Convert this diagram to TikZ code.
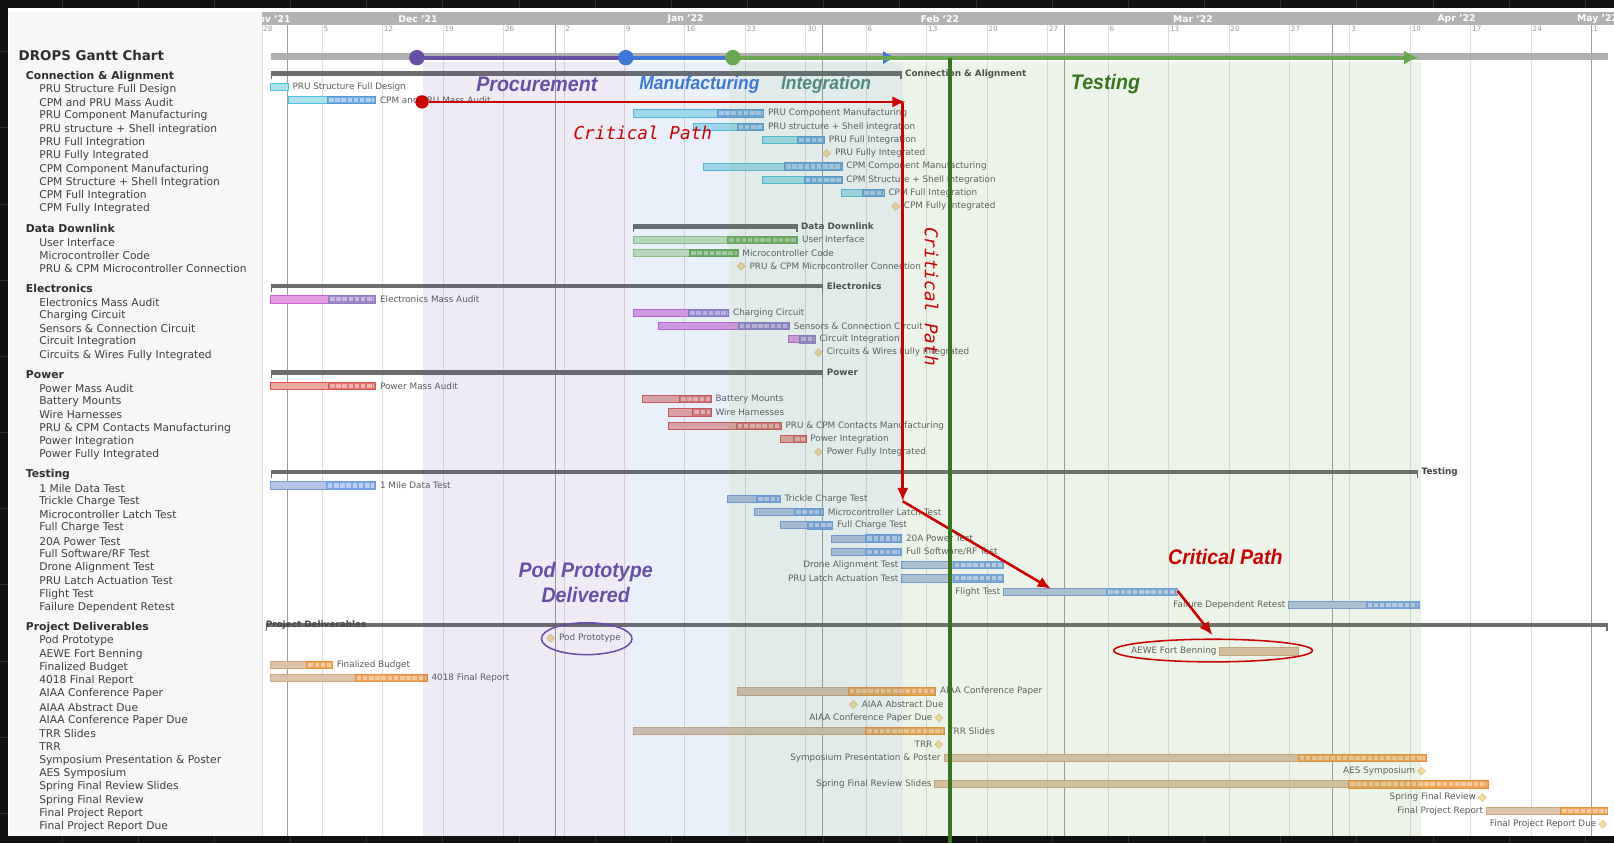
\documentclass[tikz,border=0pt]{standalone}
\usepackage{fontspec}
\setmainfont{DejaVu Sans}
\newfontfamily\phasefont{Liberation Sans}
\newfontfamily\critfont{DejaVu Sans Mono}
\usepackage{tikz}
\usetikzlibrary{arrows.meta,shapes.geometric,calc}

\definecolor{framebg}{HTML}{111111}
\definecolor{framegrid}{HTML}{2E2E2E}
\definecolor{sidebg}{HTML}{F7F7F7}
\definecolor{headgray}{HTML}{B2B2B2}
\definecolor{weekline}{HTML}{DDDDDD}
\definecolor{monthline}{HTML}{9E9E9E}
\definecolor{daygray}{HTML}{9A9A9A}
\definecolor{labtext}{HTML}{404040}
\definecolor{headtext}{HTML}{2E2E2E}
\definecolor{bartext}{HTML}{5A5A5A}
\definecolor{sumtext}{HTML}{474747}
\definecolor{sumgray}{HTML}{6C6C6C}
\definecolor{timegray}{HTML}{B0B0B0}
\definecolor{procpurple}{HTML}{674EA7}
\definecolor{mfgblue}{HTML}{3C78D8}
\definecolor{intteal}{HTML}{4E8A80}
\definecolor{intgreen}{HTML}{6AA84F}
\definecolor{tstgreen}{HTML}{38761D}
\definecolor{crit}{HTML}{CC0000}
\definecolor{msfill}{HTML}{F6DCA2}
\definecolor{msdraw}{HTML}{E9C27E}
% couleurs des groupes
\definecolor{Lcon}{HTML}{ACE2EE}\definecolor{Econ}{HTML}{4DC2DC}\definecolor{Dcon}{HTML}{74ABDD}\definecolor{Bcon}{HTML}{5B9BD5}\definecolor{Scon}{HTML}{AFD0F0}
\definecolor{Ldat}{HTML}{C6E3B7}\definecolor{Edat}{HTML}{8DC578}\definecolor{Ddat}{HTML}{72B05E}\definecolor{Bdat}{HTML}{6AA84F}\definecolor{Sdat}{HTML}{A9D394}
\definecolor{Lele}{HTML}{E29CE6}\definecolor{Eele}{HTML}{C763D3}\definecolor{Dele}{HTML}{9C86CA}\definecolor{Bele}{HTML}{8E7CC3}\definecolor{Sele}{HTML}{C9B9E6}
\definecolor{Lpow}{HTML}{ECA79F}\definecolor{Epow}{HTML}{D95650}\definecolor{Dpow}{HTML}{E0766E}\definecolor{Bpow}{HTML}{D9534F}\definecolor{Spow}{HTML}{F3B4AD}
\definecolor{Ltst}{HTML}{B4C3E6}\definecolor{Etst}{HTML}{7C9AD9}\definecolor{Dtst}{HTML}{7FA4E1}\definecolor{Btst}{HTML}{6D9EEB}\definecolor{Stst}{HTML}{B9D0F4}
\definecolor{Ldlv}{HTML}{DDC3A9}\definecolor{Edlv}{HTML}{CFA57D}\definecolor{Ddlv}{HTML}{F0A45A}\definecolor{Bdlv}{HTML}{E69138}\definecolor{Sdlv}{HTML}{F5CA9D}

\tikzset{
  lefttxt/.style={anchor=west,inner sep=0pt,text=labtext,font=\fontsize{10.4}{12}\selectfont},
  grouptxt/.style={anchor=west,inner sep=0pt,text=headtext,font=\bfseries\fontsize{10.5}{12}\selectfont},
  bartxt/.style={inner sep=0pt,text=bartext,font=\fontsize{8.6}{10}\selectfont},
  sumtxt/.style={anchor=west,inner sep=0pt,text=sumtext,font=\bfseries\fontsize{8.6}{10}\selectfont},
  daytxt/.style={anchor=north west,inner sep=0pt,text=daygray,font=\fontsize{7}{8}\selectfont},
  monthtxt/.style={inner sep=0pt,text=white,font=\bfseries\fontsize{9}{10}\selectfont},
  mstone/.style={diamond,fill=msfill,draw=msdraw,line width=0.5,minimum size=8pt,inner sep=0pt},
  sumbar/.style={sumgray,line width=4.5},
  phasetxt/.style={inner sep=0pt,xscale=0.93,font=\phasefont\bfseries\itshape\fontsize{20.5}{24}\selectfont},
  smallphase/.style={font=\phasefont\bfseries\itshape\fontsize{18.2}{22}\selectfont},
  crittxt/.style={inner sep=0pt,text=crit,font=\critfont\itshape\fontsize{17.2}{20}\selectfont},
  critline/.style={crit,line width=2.5,-{Latex[length=13pt,width=11pt]}},
  phasedot/.style={circle,minimum size=15pt,inner sep=0pt},
  phaseband/.style={fill opacity=0.11}
}

\begin{document}
\begin{tikzpicture}[x=1pt,y=-1pt]
    \useasboundingbox (0,0) rectangle (1568,819);

    % Cadre
    \fill[framebg] (0,0) rectangle (1568,819);
    \foreach \x in {60,134,...,1568} \draw[framegrid] (\x,0) -- (\x,819);
    \foreach \y in {50,124,...,819} \draw[framegrid] (0,\y) -- (1568,\y);
    \fill[white] (8,8) rectangle (1568,812);
    \fill[sidebg] (9,12) rectangle (255,812);
    \draw[weekline] (255,12) -- (255,812);

    % En-tete
    \fill[headgray] (255,12) rectangle (1568,24);
    \begin{scope}
        \clip (255,12) rectangle (1568,24);
        \foreach \m/\cx in {Nov '21/263,Dec '21/406,Jan '22/666,Feb '22/913,Mar '22/1159,Apr '22/1415,May '22/1552}
            \node[monthtxt] (mon\cx) at (\cx,18.3) {\m};
    \end{scope}
    \foreach \k/\d in {0/28,1/5,2/12,3/19,4/26,5/2,6/9,7/16,8/23,9/30,10/6,11/13,12/20,13/27,14/6,15/13,16/20,17/27,18/3,19/10,20/17,21/24,22/1}
        \node[daytxt] (day\k) at ({255.5+58.73*\k},25.5) {\d};

    % Grille
    \foreach \k in {1,...,22}
        \draw[weekline] ({254+58.73*\k},24) -- ({254+58.73*\k},812);
    \foreach \m in {279.2,539.3,799.4,1034.3,1294.4,1546.1}
        \draw[monthline,line width=1.1] (\m,24) -- (\m,812);

    % Frise
    \draw[timegray,line width=7] (263,55) -- (1562,55);

    % Titre et groupes
    \node[anchor=west,inner sep=0pt,text=headtext,font=\bfseries\fontsize{13}{15}\selectfont] (title) at (18,54) {DROPS Gantt Chart};
    \foreach \r/\g/\x/\xx/\txt in {0/0/263/876/Connection \& Alignment,11/1/615/775/Data Downlink,15/2/263/800/Electronics,21/3/263/800/Power,28/4/263/1378/Testing}{
        \pgfmathsetmacro\yl{74+12.9*\r+6.5*\g}
        \pgfmathsetmacro\yc{\yl-2.5}
        \node[grouptxt] (grp\r) at (25,\yl) {\txt};
        \draw[sumbar] (\x,\yc) -- (\xx,\yc);
        \draw[sumgray,line width=1.4] (\x+0.7,\yc) -- (\x+0.7,\yc+5.5) (\xx-0.7,\yc) -- (\xx-0.7,\yc+5.5);
        \node[sumtxt] (sum\r) at (\xx+3,\yc) {\txt};
    }
    \node[grouptxt] (grp39) at (25,609.6) {Project Deliverables};
    \draw[sumbar] (258,607.1) -- (1562,607.1);
    \draw[sumgray,line width=1.4] (258.7,607.1) -- (258.7,612.6) (1561.3,607.1) -- (1561.3,612.6);
    \node[sumtxt] (sum39) at (258,607.1) {Project Deliverables};

    % Taches
    \foreach \r/\g/\col/\a/\b/\c/\sd/\txt in {
        1/0/con/263/280/280/r/PRU Structure Full Design,
        2/0/con/280/318/365/r/CPM and PRU Mass Audit,
        3/0/con/615/697/742/r/PRU Component Manufacturing,
        4/0/con/674/716/742/r/PRU structure + Shell integration,
        5/0/con/741/775/801/r/PRU Full Integration,
        6/0/con/803/803/803/r/PRU Fully Integrated,
        7/0/con/683/762/818/r/CPM Component Manufacturing,
        8/0/con/741/781/818/r/CPM Structure + Shell Integration,
        9/0/con/817/838/859/r/CPM Full Integration,
        10/0/con/870/870/870/r/CPM Fully Integrated,
        12/1/dat/615/707/775/r/User Interface,
        13/1/dat/615/670/717/r/Microcontroller Code,
        14/1/dat/720/720/720/r/PRU \& CPM Microcontroller Connection,
        16/2/ele/263/319/365/r/Electronics Mass Audit,
        17/2/ele/615/669/708/r/Charging Circuit,
        18/2/ele/640/717/767/r/Sensors \& Connection Circuit,
        19/2/ele/766/777/792/r/Circuit Integration,
        20/2/ele/795/795/795/r/Circuits \& Wires Fully Integrated,
        22/3/pow/263/319/365/r/Power Mass Audit,
        23/3/pow/624/660/691/r/Battery Mounts,
        24/3/pow/649/673/691/r/Wire Harnesses,
        25/3/pow/649/715/759/r/PRU \& CPM Contacts Manufacturing,
        26/3/pow/758/771/783/r/Power Integration,
        27/3/pow/795/795/795/r/Power Fully Integrated,
        29/4/tst/263/317/365/r/1 Mile Data Test,
        30/4/tst/707/735/758/r/Trickle Charge Test,
        31/4/tst/733/772/800/r/Microcontroller Latch Test,
        32/4/tst/758/784/809/r/Full Charge Test,
        33/4/tst/808/841/876/r/20A Power Test,
        34/4/tst/808/841/876/r/{Full Software/RF Test},
        35/4/tst/876/926/975/l/Drone Alignment Test,
        36/4/tst/876/926/975/l/PRU Latch Actuation Test,
        37/4/tst/975/1075/1144/l/Flight Test,
        38/4/tst/1252/1327/1379/l/Failure Dependent Retest,
        40/5/dlv/535/535/535/r/Pod Prototype,
        41/5/dlv/1185/1261/1261/l/AEWE Fort Benning,
        42/5/dlv/263/298/323/r/Finalized Budget,
        43/5/dlv/263/345/415/r/4018 Final Report,
        44/5/dlv/716/824/909/r/AIAA Conference Paper,
        45/5/dlv/829/829/829/r/AIAA Abstract Due,
        46/5/dlv/912/912/912/l/AIAA Conference Paper Due,
        47/5/dlv/615/841/917/r/TRR Slides,
        48/5/dlv/912/912/912/l/TRR,
        49/5/dlv/917/1261/1386/l/Symposium Presentation \& Poster,
        50/5/dlv/1381/1381/1381/l/AES Symposium,
        51/5/dlv/908/1310/1446/l/Spring Final Review Slides,
        52/5/dlv/1440/1440/1440/l/Spring Final Review,
        53/5/dlv/1444/1516/1562/l/Final Project Report,
        54/5/dlv/1557/1557/1557/l/Final Project Report Due}{
        \pgfmathsetmacro\yl{74+12.9*\r+6.5*\g}
        \pgfmathsetmacro\yc{\yl-2.5}
        \node[lefttxt] (lbl\r) at (38,\yl) {\txt};
        \ifdim\a pt=\c pt
            \node[mstone] (ms\r) at (\a,\yc) {};
            \def\xr{\a+8}\def\xl{\a-6}
        \else
            \draw[fill=L\col,draw=E\col,line width=0.8] (\a,\yc-3.5) rectangle (\b,\yc+3.5);
            \ifdim\b pt<\c pt
                \draw[fill=D\col,draw=B\col,line width=0.8] (\b,\yc-3.6) rectangle (\c,\yc+3.6);
                \draw[S\col,line width=4,dash pattern=on 4.4pt off 1.6pt] (\b+1.6,\yc) -- (\c-1.2,\yc);
            \fi
            \def\xr{\c+4}\def\xl{\a-3}
        \fi
        \if\sd r
            \node[bartxt,anchor=west] (txt\r) at (\xr,\yc) {\txt};
        \else
            \node[bartxt,anchor=east] (txt\r) at (\xl,\yc) {\txt};
        \fi
    }

    % Phases
    \fill[procpurple,phaseband] (411,60) rectangle (610,812);
    \fill[mfgblue,phaseband] (610,60) rectangle (708,812);
    \fill[intteal,fill opacity=0.17] (708,60) rectangle (877,812);
    \fill[intgreen,fill opacity=0.12] (877,60) rectangle (1380,812);

    \node[phasetxt,text=procpurple] (proclbl) at (521.5,82) {Procurement};
    \node[phasetxt,smallphase,text=mfgblue] (mfglbl) at (679.5,82) {Manufacturing};
    \node[phasetxt,smallphase,text=intteal] (intlbl) at (802.5,82) {Integration};
    \node[phasetxt,text=tstgreen] (tstlbl) at (1074,82) {Testing};
    \node[phasetxt,text=procpurple,align=center] (podlbl) at (569,566) {Pod Prototype\\Delivered};
    \node[phasetxt,text=crit] (cplbl) at (1190.5,541) {Critical Path};

    % Jalons de phase
    \coordinate (procpt) at (405,56);
    \coordinate (mfgpt) at (608,56);
    \coordinate (intpt) at (712,56);
    \coordinate (mfgend) at (871,56);
    \coordinate (intend) at (1378,56);
    \draw[procpurple,line width=4] (procpt) -- (mfgpt);
    \draw[mfgblue,line width=4,-{Latex[length=13pt,width=13pt]}] (mfgpt) -- (mfgend);
    \draw[intgreen,line width=4,-{Latex[length=14pt,width=14pt]}] (intpt) -- (intend);
    \node[phasedot,fill=procpurple] (procdot) at (procpt) {};
    \node[phasedot,fill=mfgblue] (mfgdot) at (mfgpt) {};
    \node[phasedot,fill=intgreen] (intdot) at (intpt) {};

    % Chemin critique
    \node[circle,fill=crit,minimum size=13pt,inner sep=0pt] (cp0) at (410,99) {};
    \coordinate (cp1) at (880,99);
    \coordinate (cp2) at (877,100);
    \coordinate (cp3) at (877,487);
    \coordinate (cp4) at (1021,572);
    \coordinate (cp5) at (1144,574);
    \coordinate (cp6) at (1178,617);
    \draw[critline] (cp0) -- (cp1);
    \draw[critline] (cp2) -- (cp3);
    \draw[critline] (cp3) -- (cp4);
    \draw[critline] (cp5) -- (cp6);
    \node[crittxt] (cptop) at (624.5,129) {Critical Path};
    \node[crittxt,rotate=-90] (cpside) at (905,288) {Critical Path};

    % Cercles
    \node[ellipse,draw=procpurple,line width=1.5,minimum width=88pt,minimum height=31pt] (podring) at (570,620.5) {};
    \node[ellipse,draw=crit,line width=1.5,minimum width=193pt,minimum height=22pt] (aewering) at (1178.5,632) {};

    % Aujourd'hui
    \coordinate (today0) at (923,56);
    \coordinate (today1) at (923,819);
    \draw[tstgreen,line width=4.5] (today0) -- (today1);
\end{tikzpicture}
\end{document}
